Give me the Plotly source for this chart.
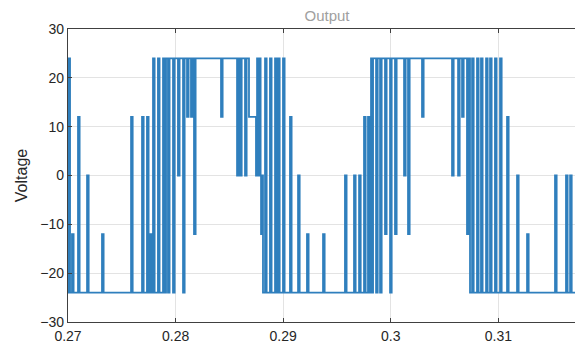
import plotly.graph_objects as go

# ---- data (time in s, voltage in V) ----
# base level of the waveform, starting at each time
base_t = [0.2700, 0.27911, 0.28682, 0.28747, 0.28812, 0.29835, 0.30736]
base_v = [-24, 24, 12, 0, -24, 24, -24]

# narrow pulses away from the base level: start time and level reached
pulse_t = [0.27004, 0.27037, 0.27093, 0.27177, 0.27316, 0.27586, 0.27688, 0.27734,
           0.27762, 0.27790, 0.27836, 0.27883,
           0.27929, 0.27976, 0.28022, 0.28069, 0.28106, 0.28143, 0.28171, 0.28422,
           0.28571, 0.28599, 0.28645,
           0.28757, 0.28775, 0.28794,
           0.28831, 0.28877, 0.28924, 0.28952, 0.28998, 0.29063, 0.29138, 0.29221,
           0.29370, 0.29574, 0.29658, 0.29705, 0.29751, 0.29788, 0.29816,
           0.29863, 0.29900, 0.29946, 0.29993, 0.30039, 0.30123, 0.30160, 0.30290,
           0.30569, 0.30625, 0.30662, 0.30708,
           0.30755, 0.30801, 0.30838, 0.30885, 0.30922, 0.30968, 0.31015, 0.31080,
           0.31173, 0.31266, 0.31526, 0.31628, 0.31666, 0.31731, 0.31768]
pulse_v = [24, -12, 12, 0, -12, 12, 12, 12,
           -12, 24, 24, 24,
           -24, -24, 0, -24, 12, 12, -12, 12,
           0, 0, 0,
           24, 24, -12,
           24, 24, 24, 24, 24, 12, 0, -12,
           -12, 0, 0, 0, 12, 12, 24,
           -24, -24, -12, -24, -12, 0, -12, 12,
           0, 0, 12, -12,
           24, 24, 24, 24, 24, 24, 24, 12,
           0, -12, 0, 0, 0, 24, 24]
pulse_w = 0.00015  # pulse duration in s

x_ticks = [0.27, 0.28, 0.29, 0.30, 0.31]
x_labels = ["0.27", "0.28", "0.29", "0.3", "0.31"]
y_ticks = [-30, -20, -10, 0, 10, 20, 30]
x_end = 0.31786


def base_at(t):
    v = base_v[0]
    for bt, bv in zip(base_t, base_v):
        if bt <= t:
            v = bv
    return v


events = [(bt, bv) for bt, bv in zip(base_t, base_v)]
for pt, pv in zip(pulse_t, pulse_v):
    events.append((pt, pv))
    events.append((pt + pulse_w, base_at(pt + pulse_w)))
events.sort(key=lambda e: e[0])
xs = [e[0] for e in events] + [x_end]
ys = [e[1] for e in events] + [events[-1][1]]

fig = go.Figure()
fig.add_trace(go.Scatter(x=xs, y=ys, mode="lines", line=dict(color="#2f7fbd", width=1.8, shape="hv"),
                         showlegend=False, hoverinfo="skip"))

# the page body has an 8 px margin, so the figure is placed at (8, 8)
W, H = 575, 335
axis_font = dict(family="Liberation Sans, Arial, sans-serif", size=14, color="#262626")
fig.update_layout(
    width=W, height=H,
    margin=dict(l=60, r=0, t=21, b=21, autoexpand=False),
    paper_bgcolor="white", plot_bgcolor="white",
    title=dict(text="Output", x=319 / W, xanchor="center", y=1 - 8 / H, yanchor="middle",
               font=dict(family="Liberation Sans, Arial, sans-serif", size=15, color="#a0a0a0")),
    xaxis=dict(range=[0.27, x_end], tickvals=x_ticks, ticktext=x_labels, showgrid=True,
               gridcolor="#e3e3e3", gridwidth=1, showline=True, linecolor="#404040", linewidth=1.2,
               mirror="ticks", ticks="inside", ticklen=4, tickcolor="#404040", tickfont=axis_font,
               zeroline=False, ticklabelstandoff=1, automargin=False),
    yaxis=dict(range=[-30, 30], tickvals=y_ticks, showgrid=True, gridcolor="#e3e3e3", gridwidth=1,
               showline=True, linecolor="#404040", linewidth=1.2, mirror=False, ticks="inside",
               ticklen=4, tickcolor="#404040", tickfont=axis_font, zeroline=False, automargin=False,
               title=dict(text="Voltage", standoff=8,
                          font=dict(family="Liberation Sans, Arial, sans-serif", size=16, color="#262626"))),
)
fig.write_html("out.html")
